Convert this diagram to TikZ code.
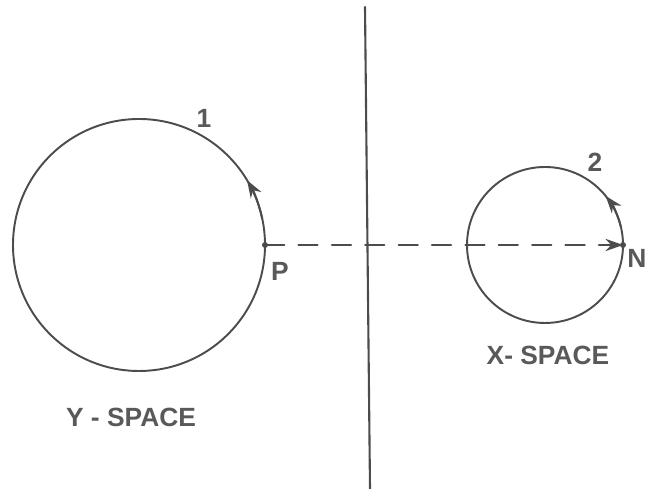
\documentclass[tikz,border=0pt]{standalone}
\usepackage{fontspec}
\setmainfont{Liberation Sans}
\usetikzlibrary{positioning,calc,arrows.meta}
\begin{document}
\begin{tikzpicture}[x=0.02cm, y=0.02cm, line join = round, line cap = round, >={Stealth[length=10pt,width=7pt]},
  curve/.style={line width=1.1pt, black!70},
  lbl/.style={font=\fontsize{15}{17}\selectfont\bfseries, text=black!65, inner sep=0pt}]
\useasboundingbox (0,0) rectangle (645,489);
\def\rY{126}  \def\rX{78}
% divider
\draw[line width=1.2pt, black!70] (365,482) -- (370,0);
% Y-space circle
\coordinate (ycen) at (139,244);
\draw[curve] (ycen) circle (\rY);
\draw[curve,->] (ycen) ++(12:\rY) arc (12:31:\rY);
\coordinate (P) at ($(ycen)+(\rY,0)$);
% X-space circle
\coordinate (xcen) at (545,244);
\draw[curve] (xcen) circle (\rX);
\draw[curve,->] (xcen) ++(14:\rX) arc (14:39:\rX);
\coordinate (N) at ($(xcen)+(\rX,0)$);
% mapping
\draw[curve, dash pattern=on 11pt off 8pt, ->] (P) -- (N);
\fill[black!70] (P) circle (3);
\fill[black!70] (N) circle (3);
% labels
\node[lbl] (one) at (204,371) {1};
\node[lbl] (pl) at (280,218) {P};
\node[lbl] (two) at (595,327) {2};
\node[lbl] (nl) at (637,231) {N};
\node[lbl] (xs) at (548,134) {X- SPACE};
\node[lbl] (ys) at (131,72) {Y - SPACE};
\end{tikzpicture}
\end{document}
